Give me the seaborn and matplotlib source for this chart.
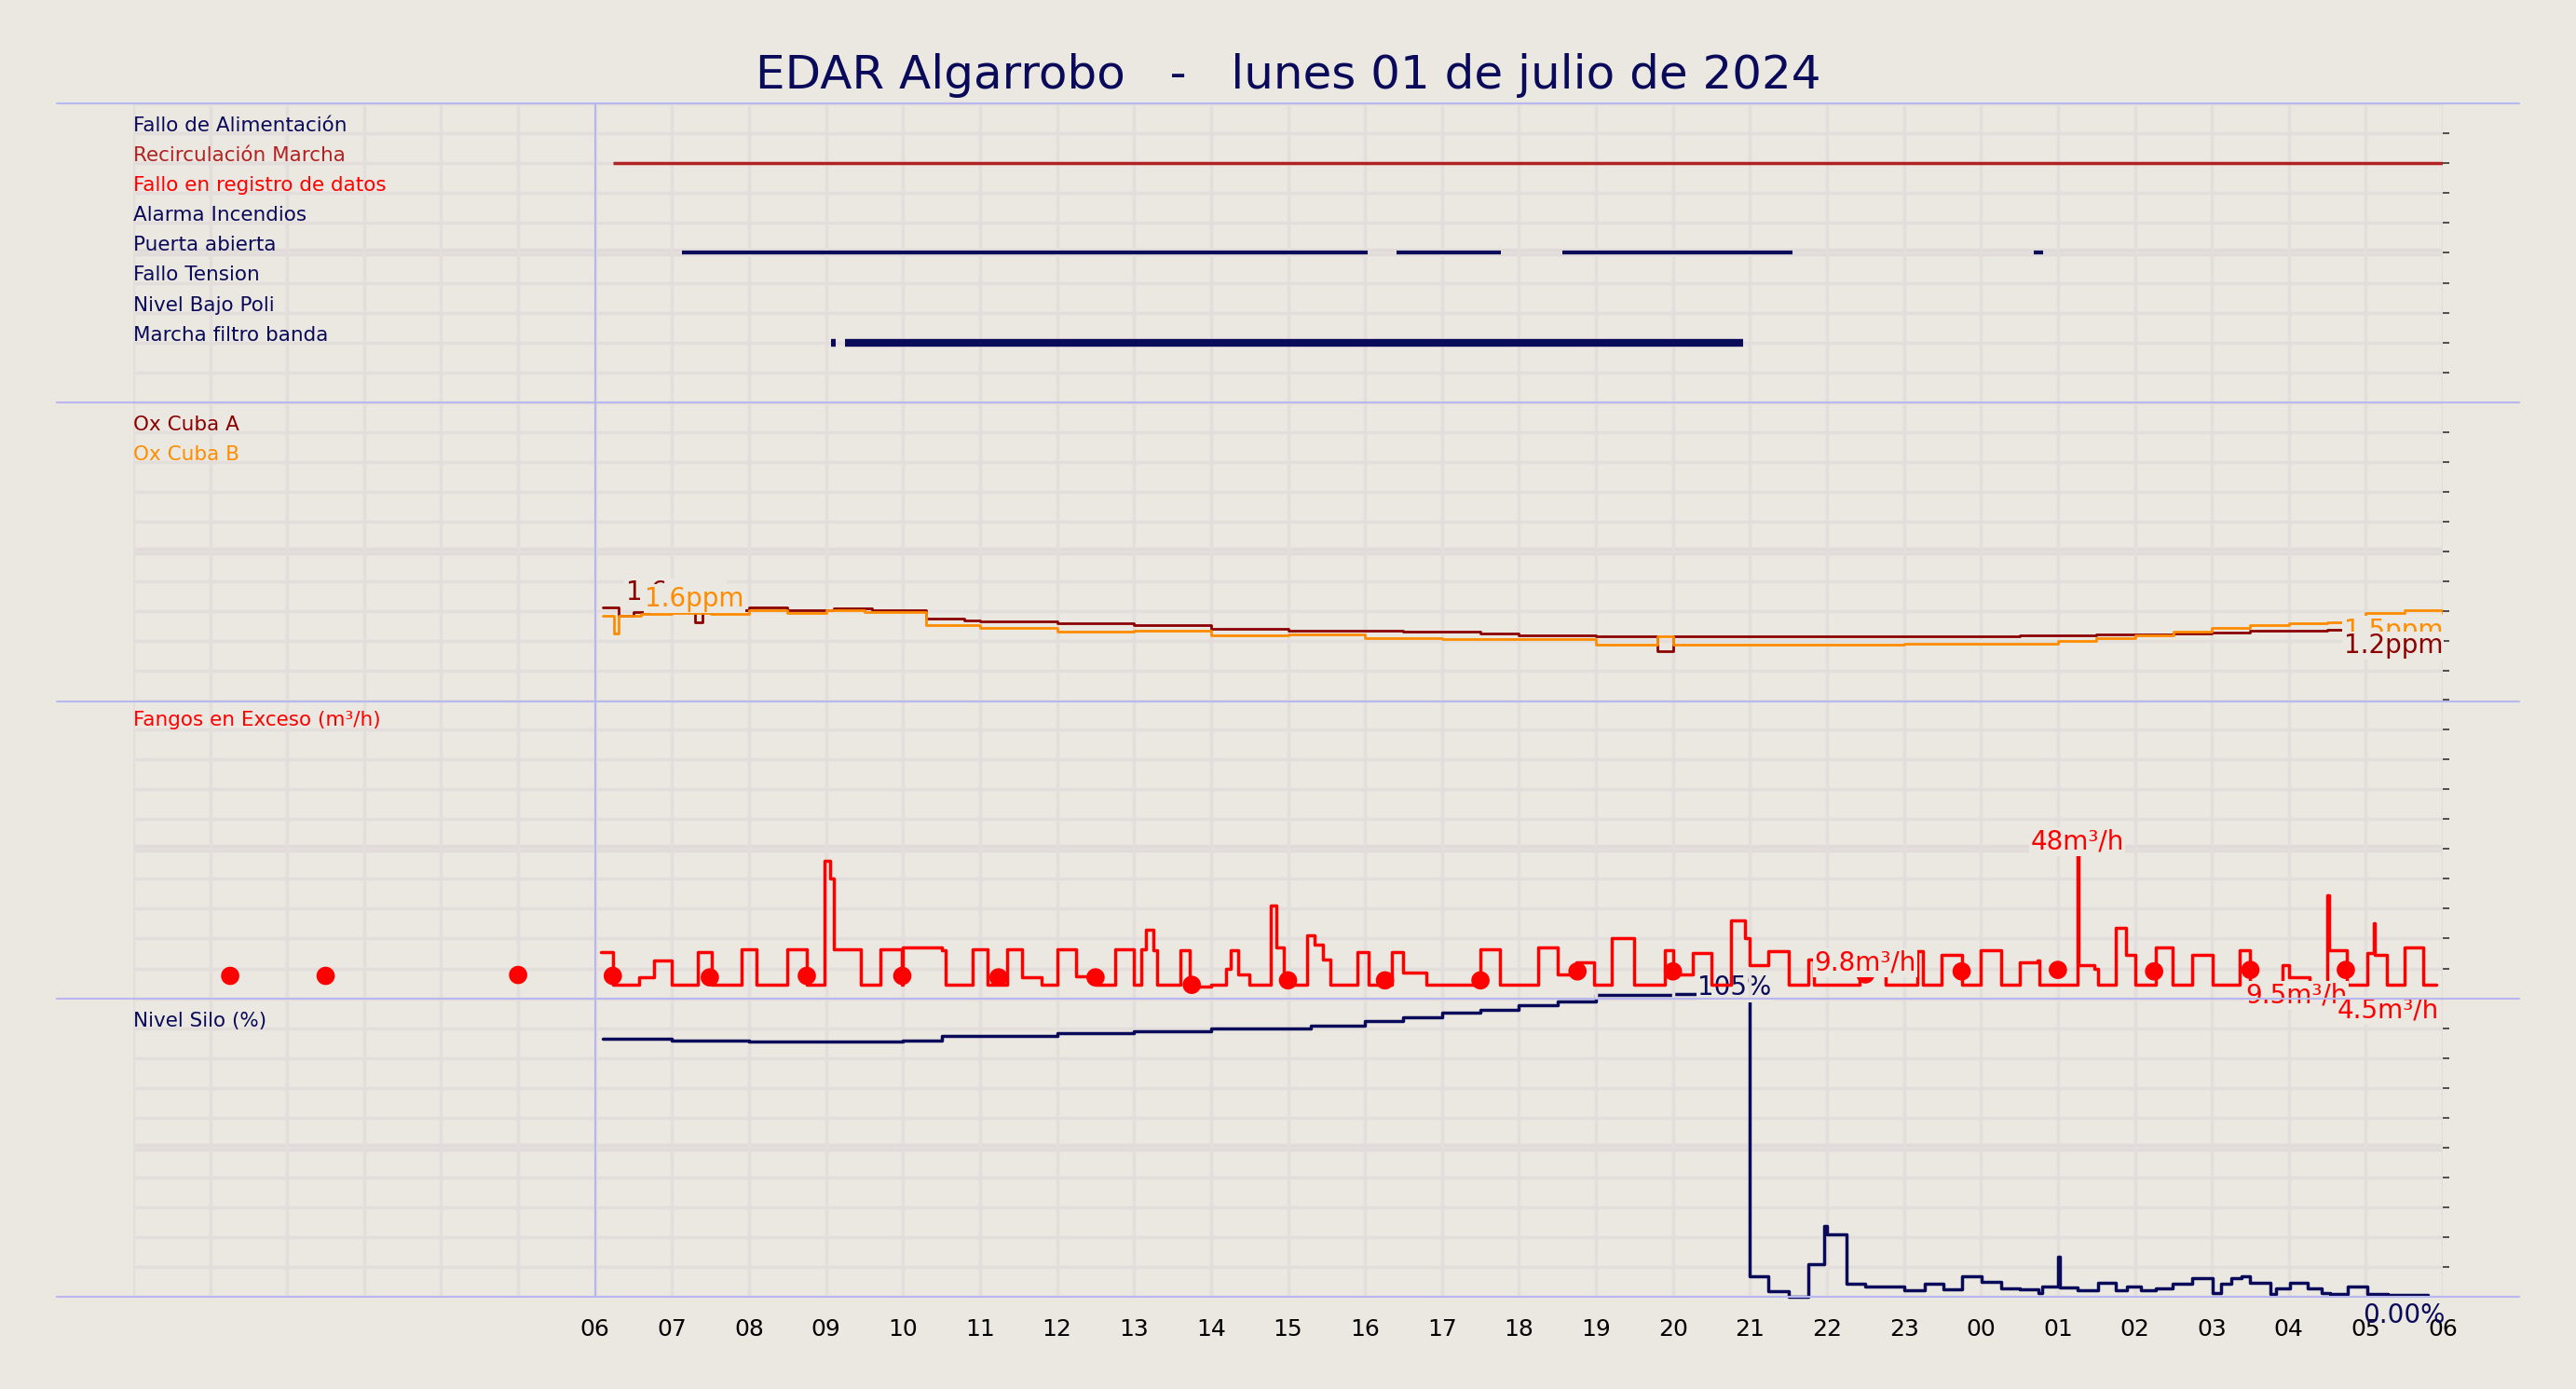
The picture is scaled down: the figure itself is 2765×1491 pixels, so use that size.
import numpy as np
import pandas as pd
import matplotlib
matplotlib.use("Agg")
import matplotlib.pyplot as plt
import matplotlib.transforms as mtrans
import seaborn as sns

# ---------------- data ----------------
state_labels = ["Fallo de Alimentación", "Recirculación Marcha", "Fallo en registro de datos",
                "Alarma Incendios", "Puerta abierta", "Fallo Tension", "Nivel Bajo Poli", "Marcha filtro banda"]
state_colors = ["#0a0a5a", "#b22222", "#ff0000", "#0a0a5a", "#0a0a5a", "#0a0a5a", "#0a0a5a", "#0a0a5a"]
recirc_segments = [(6.23, 30.0)]
puerta_segments = [(7.13, 16.04), (16.41, 17.77), (18.56, 21.55), (24.69, 24.81)]
filtro_segments = [(9.07, 9.13), (9.24, 20.91)]

oxA_t = [6.1, 6.3, 6.5, 6.7, 7.0, 7.3, 7.4, 8.0, 8.5, 9.1, 9.6, 10.3, 10.8, 11.0, 12.0, 13.0, 14.0, 15.0,
         16.5, 17.5, 18.0, 19.0, 19.8, 20.0, 21.5, 23.0, 24.5, 25.5, 26.5, 27.0, 27.5, 28.0, 28.5, 29.0, 29.5, 30.0]
oxA_v = [1.6, 1.45, 1.52, 1.55, 1.55, 1.35, 1.55, 1.6, 1.55, 1.58, 1.55, 1.4, 1.38, 1.36, 1.32, 1.3, 1.24, 1.2,
         1.18, 1.15, 1.12, 1.1, 0.85, 1.1, 1.1, 1.1, 1.12, 1.14, 1.15, 1.17, 1.2, 1.2, 1.22, 1.24, 1.24, 1.24]
oxB_t = [6.1, 6.25, 6.3, 6.6, 7.0, 7.5, 8.0, 8.5, 9.0, 9.5, 10.3, 11.0, 12.0, 13.0, 14.0, 15.0, 16.0, 17.0,
         18.0, 19.0, 19.8, 20.0, 21.0, 22.0, 23.0, 24.0, 25.0, 25.5, 26.0, 26.5, 27.0, 27.5, 28.0, 28.5, 29.0, 29.5, 30.0]
oxB_v = [1.45, 1.15, 1.45, 1.48, 1.5, 1.48, 1.55, 1.5, 1.55, 1.52, 1.3, 1.25, 1.18, 1.2, 1.12, 1.14, 1.08, 1.06,
         1.05, 0.97, 1.1, 0.96, 0.96, 0.97, 0.98, 0.98, 1.02, 1.08, 1.12, 1.18, 1.25, 1.3, 1.33, 1.35, 1.5, 1.55, 1.5]

fang_t = [6.08, 6.23, 6.57, 6.76, 7.0, 7.33, 7.52, 7.9, 8.1, 8.5, 8.75, 8.98, 9.05, 9.1, 9.45, 9.7, 9.98, 10.0,
          10.5, 10.55, 10.9, 11.1, 11.35, 11.55, 11.8, 12.0, 12.25, 12.5, 12.75, 13.0, 13.1, 13.15, 13.25, 13.3,
          13.6, 13.72, 14.0, 14.2, 14.25, 14.35, 14.5, 14.78, 14.85, 14.95, 15.25, 15.35, 15.45, 15.55, 15.9,
          16.05, 16.35, 16.5, 16.8, 17.5, 17.75, 18.25, 18.5, 18.75, 18.98, 19.2, 19.5, 19.9, 20.0, 20.26,
          20.5, 20.76, 20.93, 21.0, 21.24, 21.5, 21.76, 21.83, 22.0, 22.42, 22.58, 22.76, 23.0, 23.18, 23.25,
          23.49, 23.75, 24.0, 24.26, 24.5, 24.73, 24.76, 25.26, 25.27, 25.47, 25.52, 25.75, 25.88, 26.0, 26.27,
          26.49, 26.75, 27.01, 27.36, 27.5, 27.92, 28.0, 28.27, 28.5, 28.52, 28.75, 29.02, 29.1, 29.12, 29.27,
          29.5, 29.74, 29.91]
fang_v = [15.5, 4.5, 7, 12.5, 4.5, 15.5, 4.5, 16.5, 4.5, 16.5, 4.5, 46, 40, 16.5, 4.5, 16.5, 4.5, 17,
          16, 4.5, 16.5, 4.5, 16.5, 7, 4.5, 16.5, 7.5, 4.5, 16.5, 4.5, 16.5, 23, 16, 4.5,
          16, 4, 4.5, 10, 16, 8, 4.5, 31, 17, 4.5, 21, 18, 13, 4.5, 15.5,
          4.5, 15.5, 8.5, 4.5, 16.5, 4.5, 17, 8, 12, 4.5, 20, 4.5, 16, 8, 15,
          4.5, 26, 20, 11, 15.7, 4.5, 13, 4.5, 4.5, 8, 8, 4.5, 4.5, 15.7, 4.5,
          14.5, 4.5, 16, 4.5, 12, 12.8, 4.5, 48, 11, 10, 4.5, 23.6, 14.4, 4.5, 17,
          4.5, 14.4, 4.5, 16, 4.5, 11, 7, 4.5, 34.6, 16, 4.5, 15, 25, 14.4, 4.5,
          17, 4.5, 4.5]
dot_t = [1.26, 2.5, 5.0, 6.23, 7.49, 8.75, 9.99, 11.24, 12.5, 13.75, 15.0, 16.26, 17.5, 18.76, 20.0,
         22.5, 23.75, 25.0, 26.25, 27.5, 28.74]
dot_v = [7.5, 7.5, 7.8, 7.5, 7, 7.5, 7.5, 7, 7, 4.5, 6, 6, 6, 9, 9, 8, 9, 9.5, 9, 9.5, 9.5]

silo_t = [6.1, 7.0, 8.0, 9.0, 10.0, 10.5, 12.0, 13.0, 14.0, 15.3, 16.0, 16.5, 17.0, 17.5, 18.0, 18.5, 19.0,
          20.0, 20.7, 21.0, 21.24, 21.5, 21.76, 21.97, 22.0, 22.26, 22.5, 23.0, 23.27, 23.51, 23.76, 24.01,
          24.26, 24.5, 24.75, 24.8, 25.0, 25.02, 25.25, 25.52, 25.75, 25.9, 26.08, 26.27, 26.49, 26.75,
          27.01, 27.12, 27.25, 27.38, 27.5, 27.76, 27.83, 28.02, 28.24, 28.43, 28.54, 28.76, 29.02, 29.28, 29.8]
silo_v = [89, 88.5, 88, 88, 88.5, 90, 91, 91.5, 92.5, 93.5, 95, 96.5, 98, 99, 100.5, 102, 104,
          104.5, 105, 7.1, 2.1, 0, 11.3, 24.6, 21.5, 4.5, 3.7, 2.3, 4.5, 2.6, 7.1, 5.2,
          3.1, 2.6, 1.4, 3.7, 14, 3.2, 2.3, 4.8, 2.3, 3.7, 2.4, 3.1, 4.5, 6.6,
          1.4, 4.5, 6.6, 7.3, 5.0, 1.1, 3.1, 5.0, 3.1, 1.4, 1.1, 3.7, 1.1, 0.8, 0.8]

hour_ticks = list(range(6, 31))
hour_labels = ["%02d" % (h % 24) for h in hour_ticks]

# ---------------- style ----------------
BG = "#ebe7e1"
GRID = "#e3dedb"
GRID2 = "#e0dad8"
NAVY = "#0a0a5a"
sns.set_theme(style="white")
plt.rcParams["font.family"] = ["DejaVu Sans"]

fig = plt.figure(figsize=(27.65, 14.91), dpi=100, facecolor=BG)
L, R = 0.0517, 0.9483
bottoms = [0.7104, 0.4953, 0.2813, 0.0662]
H = 0.2151
ylims = [(0, 10), (0, 5.1), (0, 100), (0, 103)]
axes = []
for k, (b, yl) in enumerate(zip(bottoms, ylims)):
    ax = fig.add_axes([L, b, R - L, H])
    ax.patch.set_alpha(0)
    ax.set_zorder(10 - k)
    ax.set_xlim(0, 30)
    ax.set_ylim(*yl)
    ax.set_yticks(np.linspace(yl[0], yl[1], 11))
    ax.set_xticks(range(0, 31))
    ax.grid(True, color=GRID, lw=2.5, zorder=0)
    ax.set_axisbelow(True)
    ax.axhline((yl[0] + yl[1]) / 2, color=GRID2, lw=6, zorder=0)
    for s in ax.spines.values():
        s.set_visible(False)
    ax.tick_params(axis="y", left=False, right=True, labelleft=False, length=5, width=1.2, color="#333333")
    ax.tick_params(axis="x", bottom=False, labelbottom=False)
    ax.axvline(6, color="#b8b8f0", lw=1.5, zorder=1)
    axes.append(ax)

# separators (drawn above the panels)
for y in [0.9255, 0.7104, 0.4953, 0.2813, 0.0662]:
    fig.add_artist(plt.Line2D([0.022, 0.978], [y, y], color="#b8b8f0", lw=1.5, zorder=20))

trans_lab = lambda ax: mtrans.blended_transform_factory(ax.transAxes, ax.transData)
LABFS = 15.5
BOX = dict(fc=BG, ec="none", pad=1)

# panel 1: states
ax = axes[0]
for i, (lab, col) in enumerate(zip(state_labels, state_colors)):
    ax.text(0.0, 9 - i + 0.25, lab, transform=trans_lab(ax), color=col, fontsize=LABFS, va="center", ha="left")
for a, b in recirc_segments:
    ax.hlines(8, a, b, color="#b22222", lw=2.5)
for a, b in puerta_segments:
    ax.hlines(5, a, b, color=NAVY, lw=3)
for a, b in filtro_segments:
    ax.hlines(2, a, b, color=NAVY, lw=6)
ax.set_xticks([0, 6, 12, 18, 24, 30], minor=True)
ax.tick_params(axis="x", which="minor", top=True, length=6, width=1.2, color="#333333")

# panel 2: oxygen
ax = axes[1]
dfA = pd.DataFrame({"t": oxA_t, "v": oxA_v})
dfB = pd.DataFrame({"t": oxB_t, "v": oxB_v})
sns.lineplot(data=dfA, x="t", y="v", ax=ax, color="#8b0000", lw=2, drawstyle="steps-post", estimator=None, sort=False)
sns.lineplot(data=dfB, x="t", y="v", ax=ax, color="#ff8c00", lw=2, drawstyle="steps-post", estimator=None, sort=False)
ax.text(0.0, 4.72, "Ox Cuba A", transform=trans_lab(ax), color="#8b0000", fontsize=LABFS, va="center")
ax.text(0.0, 4.2, "Ox Cuba B", transform=trans_lab(ax), color="#ff8c00", fontsize=LABFS, va="center")
ax.text(6.4, 1.72, "1.6ppm", color="#8b0000", fontsize=20, bbox=BOX)
ax.text(6.65, 1.62, "1.6ppm", color="#ff8c00", fontsize=20, bbox=BOX)
ax.text(30, 1.08, "1.5ppm", color="#ff8c00", fontsize=20, ha="right", bbox=BOX)
ax.text(30, 0.82, "1.2ppm", color="#8b0000", fontsize=20, ha="right", bbox=BOX)

# panel 3: sludge
ax = axes[2]
dfF = pd.DataFrame({"t": fang_t, "v": fang_v})
sns.lineplot(data=dfF, x="t", y="v", ax=ax, color="red", lw=2.5, drawstyle="steps-post", estimator=None, sort=False)
sns.scatterplot(x=dot_t, y=dot_v, ax=ax, color="red", s=200, edgecolor="none", zorder=5)
ax.text(0.0, 93, "Fangos en Exceso (m³/h)", transform=trans_lab(ax), color="red", fontsize=LABFS, va="center")
ax.text(25.25, 50, "48m³/h", color="red", fontsize=20, ha="center", bbox=BOX)
ax.text(22.5, 9.5, "9.8m³/h", color="red", fontsize=20, ha="center", bbox=BOX)
ax.text(28.1, -1.5, "9.5m³/h", color="red", fontsize=20, ha="center", bbox=BOX)
ax.text(29.95, -6.5, "4.5m³/h", color="red", fontsize=20, ha="right", bbox=BOX)
for t in ax.texts:
    t.set_clip_on(False)
    t.set_zorder(10)

# panel 4: silo
ax = axes[3]
dfS = pd.DataFrame({"t": silo_t, "v": silo_v})
sns.lineplot(data=dfS, x="t", y="v", ax=ax, color=NAVY, lw=2.5, drawstyle="steps-post", estimator=None, sort=False)
ax.lines[-1].set_clip_on(False)
ax.text(0.0, 95, "Nivel Silo (%)", transform=trans_lab(ax), color=NAVY, fontsize=LABFS, va="center")
ax.text(20.8, 104, "105%", color=NAVY, fontsize=20, ha="center", bbox=BOX, zorder=10, clip_on=False)
ax.text(29.5, -9, "0.00%", color=NAVY, fontsize=20, ha="center", zorder=10, clip_on=False)
ax.set_xticks(hour_ticks)
ax.set_xticklabels(hour_labels)
ax.tick_params(axis="x", bottom=False, labelbottom=True, labelsize=18, pad=10, labelcolor="black")
ax.set_xticks(range(0, 31), minor=True)
ax.grid(True, which="minor", axis="x", color=GRID, lw=2.5)

for a in axes:
    a.set_xlabel("")
    a.set_ylabel("")

fig.text(0.5, 0.936, "EDAR Algarrobo   -   lunes 01 de julio de 2024", ha="center", color=NAVY, fontsize=36)
fig.savefig("out.png", dpi=100, facecolor=BG)
